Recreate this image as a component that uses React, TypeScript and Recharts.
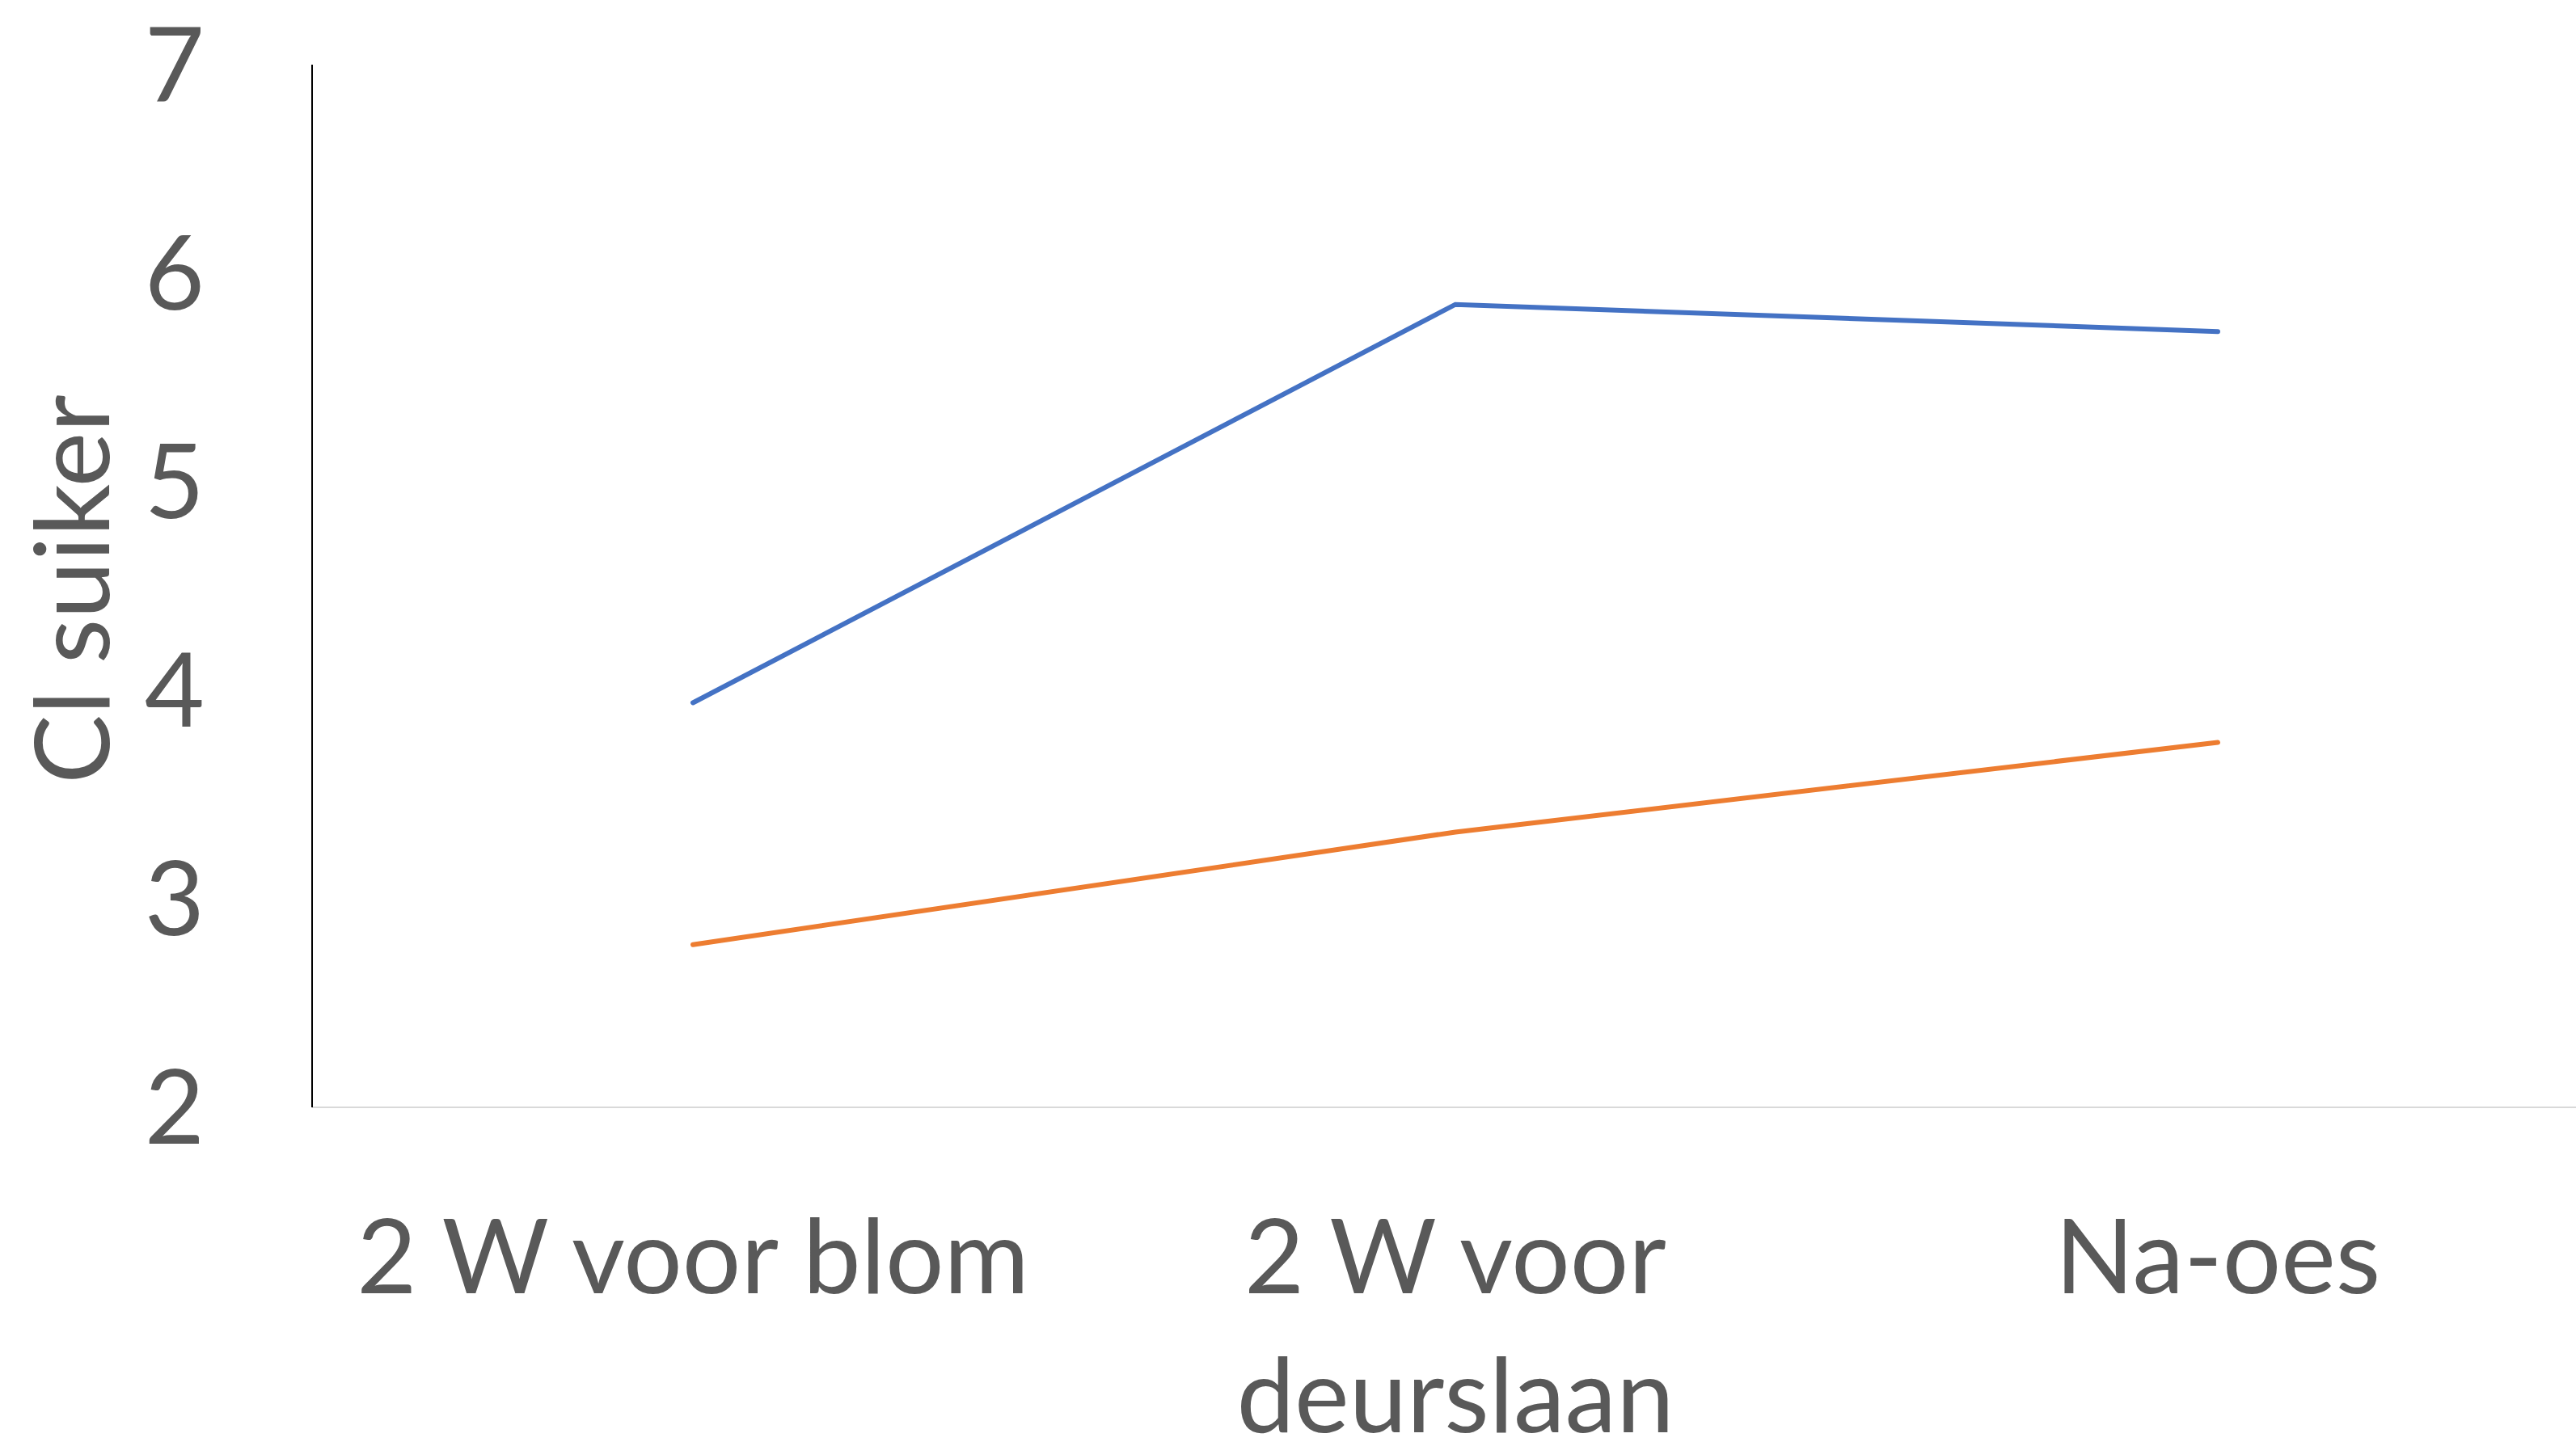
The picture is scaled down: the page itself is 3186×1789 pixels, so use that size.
import React from 'react';
import { LineChart, Line, XAxis, YAxis, Label } from 'recharts';

const stages = ['2 W voor blom', '2 W voor deurslaan', 'Na-oes'];
const seriesBlue = [3.94, 5.85, 5.72];
const seriesOrange = [2.78, 3.32, 3.75];
const yTicks = [2, 3, 4, 5, 6, 7];

const data = stages.map((stage, i) => ({ stage, blue: seriesBlue[i], orange: seriesOrange[i] }));

const FONT = 'Lato, "Open Sans", sans-serif';
const INK = '#595959';
const FONT_SIZE = 128;
const MAX_CHARS = 13;

// greedy word wrap, like Excel does for long category names
const wrap = (label: string) => {
  const lines: string[] = [];
  let cur = '';
  label.split(' ').forEach((w) => {
    const next = cur ? `${cur} ${w}` : w;
    if (next.length > MAX_CHARS && cur) {
      lines.push(cur);
      cur = w;
    } else {
      cur = next;
    }
  });
  if (cur) lines.push(cur);
  return lines;
};

const StageTick = (props: any) => {
  const { x, y, payload } = props;
  const lines = wrap(String(payload.value));
  return (
    <text x={x} y={y} textAnchor="middle" fill={INK} fontSize={FONT_SIZE} fontFamily={FONT}>
      {lines.map((line, i) => (
        <tspan key={i} x={x} dy={i === 0 ? 92 : 172}>
          {line}
        </tspan>
      ))}
    </text>
  );
};

export default function App() {
  return (
    <div style={{ position: 'absolute', left: 0, top: 0, width: 3186, height: 1789, overflow: 'hidden', background: '#fff' }}>
      <LineChart width={3260} height={1789} data={data} margin={{ top: 80, right: 46, left: 0, bottom: 0 }}>
        {/* plot frame: top edge */}
        <XAxis xAxisId="top" orientation="top" dataKey="stage" height={0} tick={false} tickLine={false} axisLine={{ stroke: '#000', strokeWidth: 2 }} />
        <XAxis
          dataKey="stage"
          height={419}
          interval={0}
          padding={{ left: 471, right: 471 }}
          tick={<StageTick />}
          tickLine={false}
          tickSize={0}
          tickMargin={138}
          axisLine={{ stroke: '#d9d9d9', strokeWidth: 2 }}
        />
        <YAxis
          domain={[2, 7]}
          ticks={yTicks}
          width={386}
          tickLine={false}
          tickSize={0}
          tickMargin={133}
          axisLine={{ stroke: '#000', strokeWidth: 2 }}
          tick={{ fill: INK, fontSize: FONT_SIZE, fontFamily: FONT }}
        >
          <Label
            content={({ viewBox }: any) => {
              const cy = viewBox.y + viewBox.height / 2 + 4;
              return (
                <text x={135} y={cy} transform={`rotate(-90, 135, ${cy})`} textAnchor="middle" fill={INK} fontSize={FONT_SIZE} fontFamily={FONT}>
                  Cl suiker
                </text>
              );
            }}
          />
        </YAxis>
        <Line type="linear" dataKey="blue" stroke="#4472C4" strokeWidth={6} strokeLinecap="round" dot={false} isAnimationActive={false} />
        <Line type="linear" dataKey="orange" stroke="#ED7D31" strokeWidth={6} strokeLinecap="round" dot={false} isAnimationActive={false} />
      </LineChart>
    </div>
  );
}
